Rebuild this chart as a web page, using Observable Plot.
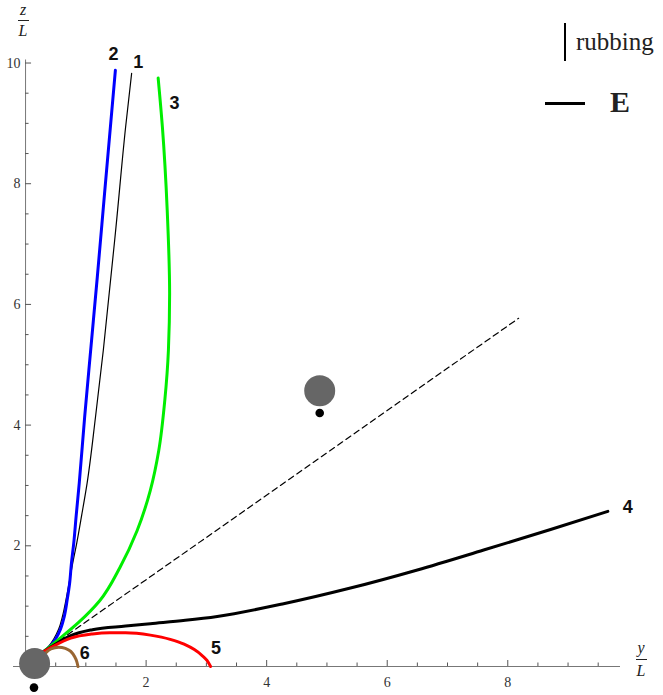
<!DOCTYPE html>
<html><head><meta charset="utf-8">
<script src="https://cdn.jsdelivr.net/npm/d3@7"></script>
<script src="https://cdn.jsdelivr.net/npm/@observablehq/plot@0.6"></script>
<style>
body{margin:0;background:#fff;}
#wrap{position:relative;width:663px;height:695px;}
.ov{position:absolute;font-family:"Liberation Serif","DejaVu Serif",serif;color:#222;}
</style></head><body>
<div id="wrap"></div>
<script>
// curve data (y/L, z/L)
const curve1 = [[0.29,0.24],[0.38,0.33],[0.47,0.46],[0.55,0.62],[0.61,0.82],[0.67,1.10],[0.72,1.37],[0.78,1.70],[0.85,2.05],[0.93,2.50],[1.02,3.03],[1.16,4.13],[1.29,5.24],[1.50,7.28],[1.66,8.94],[1.76,9.83]];
const curve2 = [[0.29,0.24],[0.40,0.33],[0.50,0.46],[0.58,0.62],[0.64,0.82],[0.69,1.10],[0.73,1.37],[0.76,1.70],[0.80,2.05],[0.84,2.50],[0.89,3.03],[0.98,4.13],[1.08,5.24],[1.19,6.45],[1.31,7.83],[1.49,9.88]];
const curve3 = [[0.29,0.24],[0.55,0.45],[0.88,0.73],[1.23,1.09],[1.57,1.65],[1.85,2.25],[2.07,2.92],[2.21,3.58],[2.31,4.41],[2.37,5.24],[2.39,6.18],[2.35,7.56],[2.27,8.94],[2.20,9.75]];
const curve4 = [[0.29,0.24],[0.45,0.34],[0.75,0.51],[1.11,0.61],[1.66,0.67],[2.07,0.71],[2.65,0.765],[3.18,0.83],[4.28,1.04],[5.39,1.30],[6.50,1.60],[7.60,1.93],[8.71,2.27],[9.66,2.57]];
const curve5 = [[0.29,0.24],[0.45,0.33],[0.75,0.47],[1.11,0.54],[1.40,0.56],[1.66,0.56],[2.07,0.52],[2.40,0.45],[2.63,0.37],[2.80,0.28],[2.92,0.19],[3.01,0.10],[3.07,0.0]];
const curve6 = [[0.33,0.22],[0.42,0.29],[0.55,0.32],[0.66,0.30],[0.75,0.25],[0.81,0.17],[0.85,0.08],[0.87,0.0]];
const dashedLine = [[0.29,0.24],[8.18,5.77]];
const curveColors = ["#000000","#0000ff","#00ee00","#000000","#ff0000","#996633"];
const curveWidths = [1.2,3,3,3,3,3];
const curveShapes = ["monotone-y","monotone-y","monotone-y","monotone-x","monotone-x","monotone-x"];
const curveNames = ["1","2","3","4","5","6"];
const labelPos = [[1.87,10.02],[1.46,10.14],[2.47,9.33],[9.99,2.64],[3.16,0.30],[0.98,0.22]];
// bodies
const bigDisks = [[0.15,0.05],[4.88,4.57]];
const smallDots = [[0.14,-0.35],[4.88,4.20]];
// ticks
const xMajor = [2,4,6,8];
const yMajor = [2,4,6,8,10];
const xMinor = [0.5,1,1.5,2.5,3,3.5,4.5,5,5.5,6.5,7,7.5,8.5,9,9.5];
const yMinor = [0.5,1,1.5,2.5,3,3.5,4.5,5,5.5,6.5,7,7.5,8.5,9,9.5];

const curves = [curve1,curve2,curve3,curve4,curve5,curve6];
const pxX = 1/60.28, pxY = 1/60.35;
const serif = "'Liberation Serif', 'DejaVu Serif', serif";
const sans = "'Liberation Sans', Arial, sans-serif";

const marks = [
  Plot.ruleY([0], {stroke:"#777", strokeWidth:1}),
  Plot.ruleX([0], {stroke:"#777", strokeWidth:1}),
  Plot.ruleX(xMajor, {x:d=>d, y1:0, y2:6*pxY, stroke:"#555"}),
  Plot.ruleX(xMinor, {x:d=>d, y1:0, y2:3.5*pxY, stroke:"#555"}),
  Plot.ruleY(yMajor, {y:d=>d, x1:0, x2:6*pxX, stroke:"#555"}),
  Plot.ruleY(yMinor, {y:d=>d, x1:0, x2:3.5*pxX, stroke:"#555"}),
  Plot.text(xMajor, {x:d=>d, y:0, text:d=>String(d), dy:16, fontSize:14, fontFamily:serif, fill:"#333"}),
  Plot.text(yMajor, {x:0, y:d=>d, text:d=>String(d), dx:-5, textAnchor:"end", fontSize:14, fontFamily:serif, fill:"#333"}),
  Plot.line(dashedLine, {x:d=>d[0], y:d=>d[1], stroke:"#000", strokeWidth:1.2, strokeDasharray:"6,4"})
];
curves.forEach((c,i)=>{
  marks.push(Plot.line(c, {x:d=>d[0], y:d=>d[1], stroke:curveColors[i], strokeWidth:curveWidths[i], curve:curveShapes[i]}));
});
marks.push(Plot.text(curveNames, {x:(d,i)=>labelPos[i][0], y:(d,i)=>labelPos[i][1], text:d=>d, fontSize:18, fontWeight:"bold", fontFamily:sans, fill:"#111"}));
marks.push(Plot.dot(bigDisks, {x:d=>d[0], y:d=>d[1], r:15.5, fill:"#666", stroke:"none"}));
marks.push(Plot.dot(smallDots, {x:d=>d[0], y:d=>d[1], r:4.3, fill:"#000", stroke:"none"}));

const chart = Plot.plot({
  width:663, height:695,
  marginLeft:13, marginRight:43, marginTop:59.5, marginBottom:29,
  x:{domain:[-0.2,9.87], axis:null},
  y:{domain:[0,10.05], axis:null},
  style:{overflow:"visible", background:"white", fontFamily:serif},
  marks
});
const wrap = document.getElementById("wrap");
wrap.appendChild(chart);

function ov(html, left, top, css){
  const d = document.createElement("div");
  d.className = "ov";
  d.innerHTML = html;
  d.style.left = left+"px"; d.style.top = top+"px";
  Object.assign(d.style, css||{});
  wrap.appendChild(d);
}
// axis labels (fractions)
ov('<div style="font-style:italic;font-size:16px;text-align:center;width:14px;line-height:16px">z</div><div style="border-top:1px solid #222;width:11px;margin:2px auto 2px"></div><div style="font-style:italic;font-size:16px;text-align:center;width:14px;line-height:16px">L</div>', 16, 2);
ov('<div style="font-style:italic;font-size:16px;text-align:center;width:14px;line-height:16px">y</div><div style="border-top:1px solid #222;width:11px;margin:3px auto 3px"></div><div style="font-style:italic;font-size:16px;text-align:center;width:14px;line-height:16px">L</div>', 634, 640);
// legend
ov('<div style="position:absolute;left:0;top:0;width:2px;height:38px;background:#000"></div><div style="position:absolute;left:12px;top:2px;font-size:25px;line-height:34px;white-space:nowrap">rubbing</div>', 564, 23);
ov('<div style="position:absolute;left:0;top:0;width:40px;height:3px;background:#000"></div><div style="position:absolute;left:65px;top:-17px;font-size:30px;font-weight:bold;line-height:34px">E</div>', 545, 102);
</script>
</body></html>
